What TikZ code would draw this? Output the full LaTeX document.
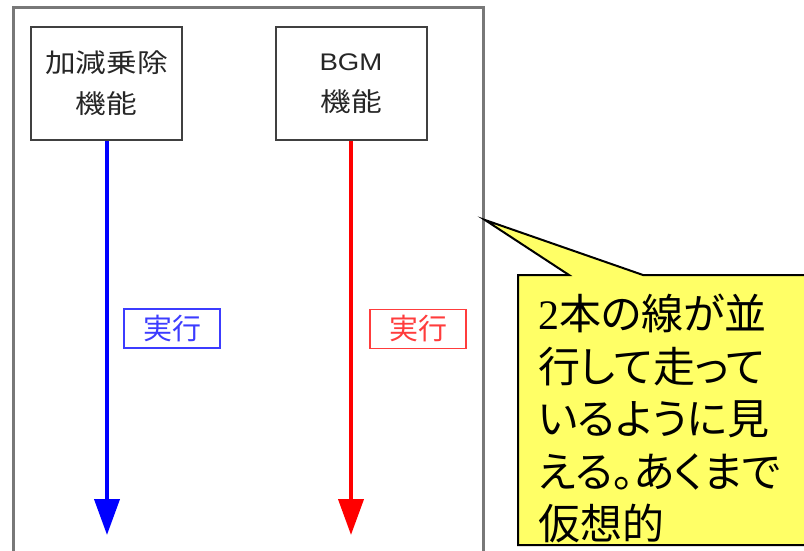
\documentclass[tikz,border=0pt]{standalone}
\usepackage{fontspec}
\setmainfont{Liberation Sans}
\newfontfamily\jp[RawFeature=+palt]{Noto Sans CJK JP}
\newfontfamily\jpwide[FakeStretch=1.18]{Noto Sans CJK JP}
\newfontfamily\latwide[FakeStretch=1.15]{Liberation Sans}
\newfontfamily\serifnum{Liberation Serif}
\usetikzlibrary{arrows.meta}
\definecolor{framegray}{RGB}{120,120,120}
\definecolor{boxgray}{RGB}{64,64,64}
\definecolor{lblblue}{RGB}{60,60,255}
\definecolor{lblred}{RGB}{255,60,60}
\definecolor{calloutyellow}{RGB}{255,255,102}
\tikzset{
  funcbox/.style={draw=boxgray, line width=2pt, minimum width=151pt, minimum height=113pt,
    align=center, inner sep=0pt, text=black!85, font=\jpwide\fontsize{26}{41}\selectfont},
  runlbl/.style={line width=1.5pt, minimum width=96pt, minimum height=39pt, inner sep=0pt,
    font=\jp\fontsize{29}{30}\selectfont},
  flowarrow/.style={line width=4pt, -{Triangle[length=36pt,width=25pt]}},
  callout/.style={fill=calloutyellow, draw=black, line width=2pt, line join=miter},
}
\begin{document}
\begin{tikzpicture}[x=1pt,y=-1pt]
\useasboundingbox (0,0) rectangle (804,551);
\fill[white] (0,0) rectangle (804,551);
% outer frame
\draw[framegray, line width=3pt] (13,570) -- (13,8) -- (483,8) -- (483,570);
% function boxes
\node[funcbox] (f1) at (106.5,83.5) {加減乗除\\機能};
\node[funcbox] (f2) at (351,83.5) {{\latwide\fontsize{24}{41}\selectfont BGM}\\機能};
% arrow ends
\coordinate (e1) at (107,535);
\coordinate (e2) at (351,535);
\draw[flowarrow, blue] (f1.south -| e1) -- (e1);
\draw[flowarrow, red] (f2.south -| e2) -- (e2);
% labels
\node[runlbl, draw=lblblue, text=lblblue, fill=white] (l1) at (172,328.5) {実行};
\node[runlbl, draw=lblred, text=lblred, fill=white] (l2) at (418,329) {実行};
% callout
\coordinate (tip) at (485,220);
\path[callout] (815,275) -- (643,275) -- (tip) -- (569,275) -- (518,275) -- (518,545) -- (815,545) -- cycle;
\node[anchor=north west, inner sep=0pt, align=left, font=\jp\fontsize{42}{52.5}\selectfont] (ct) at (538,294)
  {{\serifnum 2}本の線が並\\行して走って\\いるように見\\える。あくまで\\仮想的};
\end{tikzpicture}
\end{document}
